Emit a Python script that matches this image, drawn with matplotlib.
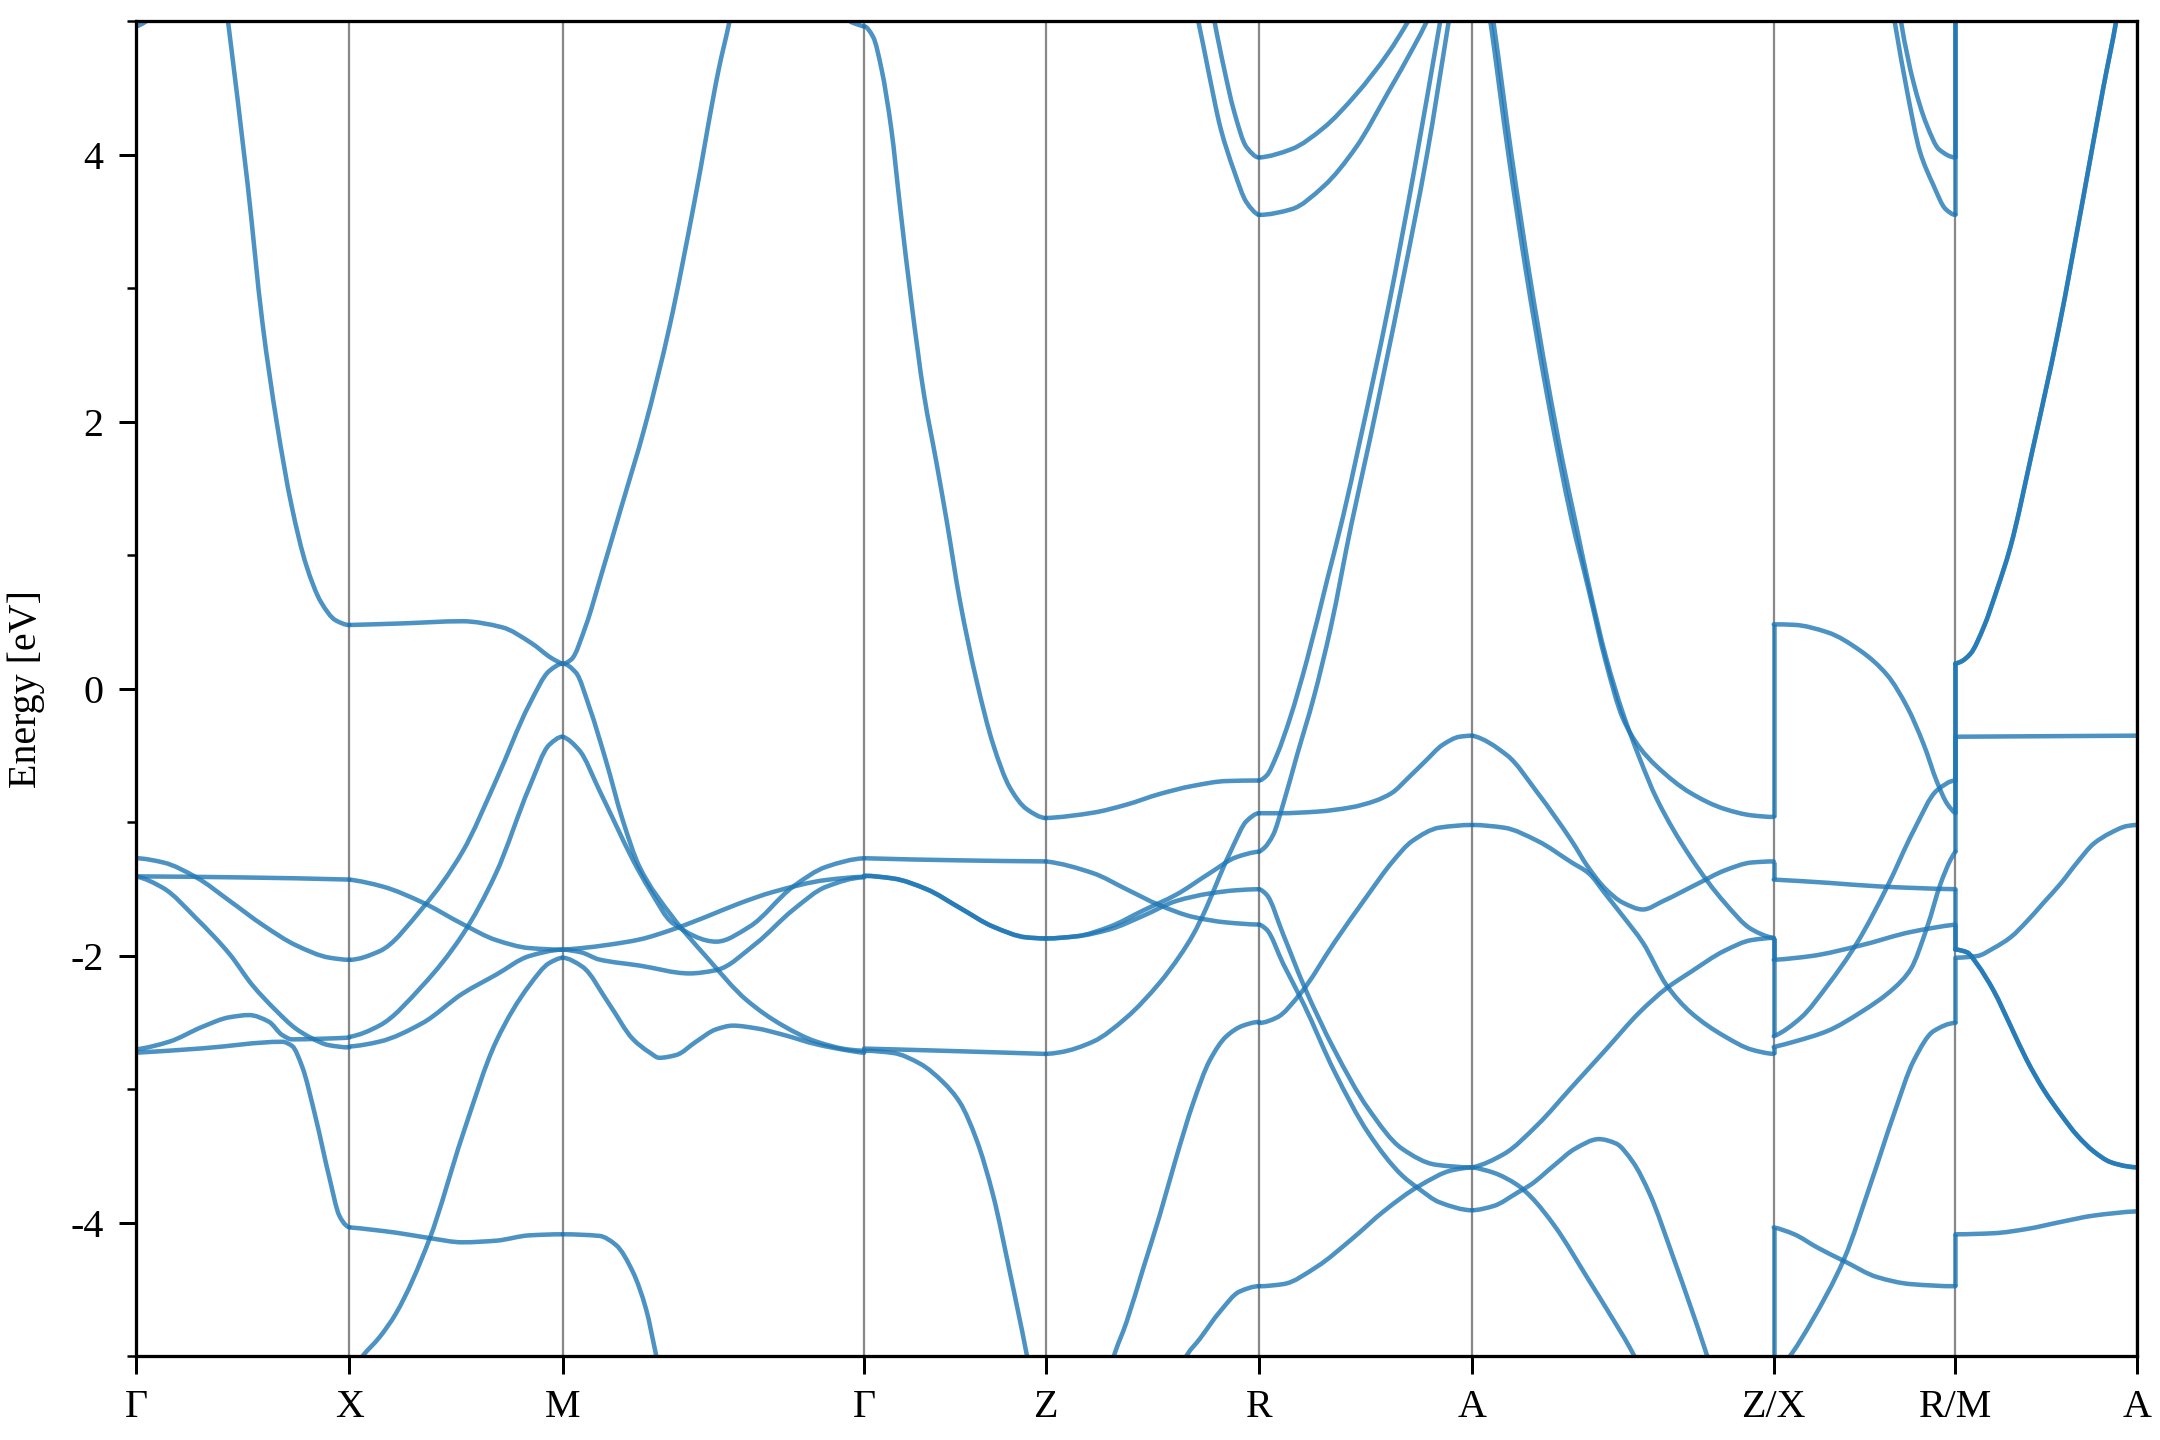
import numpy as np
import matplotlib
matplotlib.use("Agg")
import matplotlib.pyplot as plt
from matplotlib.path import Path
from matplotlib.patches import PathPatch
from matplotlib.ticker import MultipleLocator

plt.rcParams['font.family'] = ['Liberation Serif', 'DejaVu Serif']
plt.rcParams['axes.unicode_minus'] = False

# high-symmetry path (cumulative k distance) and labels
K_LABELS = ['Γ', 'X', 'M', 'Γ', 'Z', 'R', 'A', 'Z/X', 'R/M', 'A']
K_TICKS = [0.0, 0.5, 1.0, 1.707, 2.133, 2.633, 3.133, 3.840, 4.266, 4.692]

# bands, per segment: (fraction along segment, energy in eV)
GX_BANDS = [
    [(0.40, 5.41), (0.431, 5.0), (0.523, 3.779), (0.592, 2.747), (0.660, 1.99), (0.729, 1.371),
     (0.798, 0.924), (0.867, 0.648), (0.936, 0.511), (1.0, 0.476)],
    [(0.0, 4.96), (0.04, 4.99), (0.08, 5.05)],
    [(0.0, -1.271), (0.128, -1.303), (0.283, -1.415), (0.439, -1.591), (0.595, -1.772),
     (0.751, -1.924), (0.907, -2.016), (1.0, -2.032)],
    [(0.0, -1.407), (0.5, -1.415), (1.0, -1.431)],
    [(0.0, -1.407), (0.128, -1.495), (0.283, -1.723), (0.439, -1.99), (0.545, -2.221),
     (0.654, -2.408), (0.748, -2.546), (0.826, -2.621), (0.903, -2.671), (1.0, -2.688)],
    [(0.0, -2.703), (0.156, -2.645), (0.312, -2.533), (0.436, -2.463), (0.53, -2.446),
     (0.623, -2.496), (0.685, -2.595), (0.732, -2.628), (0.872, -2.623), (1.0, -2.615)],
    [(0.0, -2.728), (0.312, -2.695), (0.685, -2.646), (0.732, -2.678), (0.779, -2.833),
     (0.841, -3.207), (0.907, -3.667), (0.953, -3.948), (0.984, -4.02), (1.0, -4.036)],
]

XM_BANDS = [
    [(0.0, 0.476), (0.233, 0.487), (0.53, 0.504), (0.716, 0.459), (0.855, 0.339), (0.947, 0.229), (1.0, 0.184)],
    [(0.0, -2.032), (0.141, -1.968), (0.344, -1.643), (0.531, -1.222), (0.688, -0.689),
     (0.844, -0.12), (0.938, 0.132), (1.0, 0.188)],
    [(0.0, -2.609), (0.141, -2.525), (0.344, -2.224), (0.531, -1.844), (0.688, -1.383),
     (0.844, -0.741), (0.938, -0.421), (1.0, -0.361)],
    [(0.0, -2.681), (0.141, -2.645), (0.344, -2.505), (0.531, -2.285), (0.688, -2.144),
     (0.844, -2.004), (1.0, -1.956)],
    [(0.0, -1.431), (0.156, -1.483), (0.344, -1.603), (0.531, -1.764), (0.688, -1.884),
     (0.844, -1.944), (1.0, -1.956)],
    [(0.0, -4.036), (0.219, -4.076), (0.375, -4.116), (0.531, -4.148), (0.688, -4.136),
     (0.844, -4.096), (1.0, -4.088)],
    [(0.0, -5.15), (0.0625, -5.0), (0.141, -4.86), (0.219, -4.68), (0.375, -4.128), (0.531, -3.347),
     (0.688, -2.645), (0.844, -2.224), (0.938, -2.056), (1.0, -2.016)],
]

MG_BANDS = [
    [(0.0, 0.184), (0.029, 0.218), (0.078, 0.476), (0.127, 0.84), (0.192, 1.337), (0.274, 1.97),
     (0.355, 2.713), (0.437, 3.641), (0.518, 4.639), (0.554, 5.0), (0.58, 5.3)],
    [(0.93, 5.1), (0.952, 5.0), (0.976, 4.976), (1.0, 4.959)],
    [(0.0, 0.188), (0.044, 0.12), (0.089, -0.14), (0.144, -0.541), (0.199, -0.982), (0.255, -1.335),
     (0.364, -1.709), (0.477, -2.01), (0.61, -2.333), (0.731, -2.525), (0.842, -2.645),
     (0.952, -2.705), (1.0, -2.713)],
    [(0.0, -0.361), (0.055, -0.461), (0.122, -0.762), (0.177, -1.022), (0.233, -1.283),
     (0.288, -1.503), (0.366, -1.759), (0.51, -1.896), (0.62, -1.784), (0.764, -1.485),
     (0.875, -1.335), (1.0, -1.272)],
    [(0.0, -1.956), (0.06, -1.945), (0.15, -1.92), (0.255, -1.88), (0.366, -1.804), (0.477, -1.709),
     (0.587, -1.609), (0.698, -1.524), (0.875, -1.434), (1.0, -1.41)],
    [(0.0, -1.956), (0.06, -1.975), (0.122, -2.03), (0.255, -2.075), (0.421, -2.134), (0.51, -2.109),
     (0.642, -1.909), (0.764, -1.659), (0.875, -1.484), (1.0, -1.414)],
    [(0.0, -2.016), (0.066, -2.084), (0.155, -2.365), (0.233, -2.625), (0.288, -2.725),
     (0.321, -2.766), (0.377, -2.745), (0.443, -2.645), (0.509, -2.553), (0.565, -2.525),
     (0.642, -2.545), (0.731, -2.593), (0.842, -2.665), (0.952, -2.713), (1.0, -2.729)],
    [(0.0, -4.088), (0.122, -4.10), (0.177, -4.168), (0.233, -4.369), (0.277, -4.649),
     (0.31, -4.99), (0.33, -5.2)],
]

gz_pair = [(0.0, -1.403), (0.161, -1.423), (0.344, -1.503), (0.527, -1.643), (0.711, -1.784),
           (0.894, -1.864), (1.0, -1.872)]
GZ_BANDS = [
    [(0.0, 4.96), (0.05, 4.88), (0.096, 4.64), (0.15, 4.19), (0.198, 3.61), (0.26, 2.9), (0.33, 2.2),
     (0.40, 1.68), (0.454, 1.262), (0.527, 0.661), (0.619, 0.06), (0.711, -0.421), (0.802, -0.741),
     (0.894, -0.902), (1.0, -0.97)],
    [(0.0, -1.271), (0.527, -1.287), (1.0, -1.295)],
    gz_pair,
    gz_pair,
    [(0.0, -2.697), (0.527, -2.717), (1.0, -2.737)],
    [(0.0, -2.713), (0.161, -2.73), (0.308, -2.81), (0.436, -2.95), (0.527, -3.10), (0.619, -3.38),
     (0.711, -3.80), (0.802, -4.37), (0.894, -4.98), (0.93, -5.25)],
]

ZR_BANDS = [
    [(0.70, 5.1), (0.715, 5.0), (0.761, 4.639), (0.821, 4.19), (0.882, 3.882), (0.942, 3.641), (1.0, 3.548)],
    [(0.78, 5.1), (0.791, 5.0), (0.837, 4.639), (0.882, 4.33), (0.942, 4.054), (1.0, 3.978)],
    [(0.0, -0.970), (0.222, -0.930), (0.378, -0.870), (0.534, -0.790), (0.691, -0.729),
     (0.847, -0.693), (1.0, -0.689)],
    [(0.0, -1.295), (0.222, -1.383), (0.378, -1.503), (0.534, -1.623), (0.691, -1.711),
     (0.847, -1.752), (1.0, -1.768)],
    [(0.0, -1.872), (0.144, -1.856), (0.3, -1.784), (0.456, -1.663), (0.613, -1.543),
     (0.769, -1.383), (0.894, -1.263), (1.0, -1.222)],
    [(0.0, -1.872), (0.144, -1.856), (0.3, -1.804), (0.456, -1.703), (0.613, -1.591),
     (0.769, -1.535), (0.894, -1.511), (1.0, -1.503)],
    [(0.0, -2.737), (0.066, -2.725), (0.222, -2.645), (0.378, -2.465), (0.534, -2.204),
     (0.628, -2.004), (0.691, -1.844), (0.753, -1.643), (0.816, -1.403), (0.878, -1.182),
     (0.941, -0.994), (1.0, -0.934)],
    [(0.29, -5.2), (0.316, -5.02), (0.378, -4.749), (0.456, -4.349), (0.534, -3.948), (0.613, -3.507),
     (0.691, -3.106), (0.769, -2.786), (0.847, -2.605), (0.925, -2.525), (1.0, -2.497)],
    [(0.62, -5.2), (0.653, -5.02), (0.723, -4.87), (0.816, -4.669), (0.909, -4.517), (1.0, -4.477)],
]

RA_BANDS = [
    [(0.0, 3.978), (0.152, 4.04), (0.303, 4.2), (0.455, 4.45), (0.606, 4.76), (0.70, 5.0), (0.75, 5.15)],
    [(0.0, 3.548), (0.152, 3.59), (0.303, 3.762), (0.455, 4.054), (0.606, 4.467), (0.727, 4.811),
     (0.788, 5.0), (0.83, 5.15)],
    [(0.0, -0.689), (0.035, -0.653), (0.083, -0.501), (0.146, -0.22), (0.226, 0.22), (0.321, 0.822),
     (0.393, 1.28), (0.47, 1.83), (0.606, 2.85), (0.73, 3.9), (0.85, 5.0), (0.9, 5.45)],
    [(0.0, -1.222), (0.027, -1.19), (0.067, -1.094), (0.114, -0.862), (0.178, -0.501), (0.258, -0.06),
     (0.337, 0.461), (0.432, 1.22), (0.518, 1.85), (0.667, 3.0), (0.788, 4.0), (0.89, 5.0), (0.93, 5.4)],
    [(0.0, -0.934), (0.099, -0.934), (0.273, -0.922), (0.432, -0.89), (0.544, -0.842), (0.623, -0.782),
     (0.7, -0.669), (0.782, -0.541), (0.862, -0.421), (0.941, -0.361), (1.0, -0.353)],
    [(0.0, -1.503), (0.035, -1.543), (0.114, -1.844), (0.21, -2.224), (0.353, -2.705), (0.512, -3.146),
     (0.671, -3.447), (0.83, -3.567), (1.0, -3.587)],
    [(0.0, -1.768), (0.035, -1.804), (0.114, -2.064), (0.21, -2.365), (0.353, -2.866), (0.512, -3.327),
     (0.671, -3.647), (0.75, -3.747), (0.846, -3.848), (1.0, -3.908)],
    [(0.0, -4.477), (0.114, -4.461), (0.273, -4.329), (0.432, -4.128), (0.591, -3.908), (0.75, -3.727),
     (0.909, -3.607), (1.0, -3.587)],
    [(0.0, -2.505), (0.083, -2.465), (0.194, -2.285), (0.353, -1.904), (0.512, -1.543), (0.623, -1.303),
     (0.719, -1.142), (0.846, -1.042), (1.0, -1.022)],
]

AZ_BANDS = [
    [(0.04, 5.3), (0.06, 5.0), (0.12, 4.0), (0.18, 3.1), (0.24, 2.3), (0.29, 1.7), (0.33, 1.262),
     (0.386, 0.741), (0.443, 0.2), (0.499, -0.22), (0.555, -0.441), (0.611, -0.581), (0.724, -0.782),
     (0.837, -0.902), (0.927, -0.95), (1.0, -0.962)],
    [(0.05, 5.3), (0.07, 5.0), (0.13, 4.0), (0.19, 3.1), (0.25, 2.3), (0.30, 1.7), (0.341, 1.262),
     (0.386, 0.782), (0.443, 0.24), (0.499, -0.18), (0.555, -0.521), (0.611, -0.822), (0.724, -1.263),
     (0.837, -1.603), (0.927, -1.804), (1.0, -1.868)],
    [(0.0, -0.353), (0.116, -0.501), (0.217, -0.782), (0.33, -1.142), (0.386, -1.343), (0.443, -1.503),
     (0.499, -1.603), (0.566, -1.655), (0.634, -1.591), (0.747, -1.463), (0.837, -1.363),
     (0.927, -1.303), (1.0, -1.295)],
    [(0.0, -1.022), (0.105, -1.042), (0.217, -1.142), (0.33, -1.303), (0.386, -1.383), (0.443, -1.543),
     (0.499, -1.703), (0.566, -1.904), (0.645, -2.224), (0.724, -2.425), (0.837, -2.605),
     (0.927, -2.705), (1.0, -2.737)],
    [(0.0, -3.587), (0.105, -3.487), (0.217, -3.267), (0.33, -2.986), (0.443, -2.705), (0.555, -2.425),
     (0.645, -2.244), (0.724, -2.124), (0.837, -1.964), (0.927, -1.884), (1.0, -1.868)],
    [(0.0, -3.587), (0.071, -3.627), (0.15, -3.719), (0.195, -3.808), (0.274, -4.028), (0.386, -4.429),
     (0.454, -4.677), (0.521, -4.93), (0.56, -5.1)],
    [(0.0, -3.908), (0.071, -3.876), (0.15, -3.776), (0.195, -3.715), (0.274, -3.567), (0.341, -3.447),
     (0.42, -3.375), (0.476, -3.407), (0.533, -3.547), (0.589, -3.788), (0.668, -4.269),
     (0.724, -4.629), (0.775, -4.97), (0.8, -5.15)],
]

XR_BANDS = [
    [(0.64, 5.2), (0.665, 5.0), (0.735, 4.467), (0.805, 4.02), (0.876, 3.779), (0.947, 3.59), (1.0, 3.548)],
    [(0.68, 5.2), (0.70, 5.0), (0.77, 4.536), (0.841, 4.226), (0.911, 4.037), (1.0, 3.978)],
    [(0.0, 0.481), (0.113, 0.477), (0.296, 0.421), (0.479, 0.281), (0.625, 0.1), (0.735, -0.14),
     (0.826, -0.421), (0.899, -0.701), (0.954, -0.862), (1.0, -0.934)],
    [(0.0, -1.431), (0.296, -1.455), (0.589, -1.483), (1.0, -1.503)],
    [(0.0, -2.032), (0.205, -2.004), (0.479, -1.924), (0.753, -1.824), (1.0, -1.768)],
    [(0.0, -2.605), (0.15, -2.465), (0.296, -2.224), (0.459, -1.904), (0.625, -1.483), (0.771, -1.062),
     (0.899, -0.762), (1.0, -0.689)],
    [(0.0, -2.685), (0.113, -2.645), (0.296, -2.565), (0.479, -2.425), (0.662, -2.244), (0.753, -2.104),
     (0.845, -1.784), (0.918, -1.463), (0.973, -1.283), (1.0, -1.222)],
    [(0.0, -4.036), (0.113, -4.088), (0.241, -4.188), (0.388, -4.289), (0.57, -4.409), (0.753, -4.461),
     (1.0, -4.477)],
    [(0.0, -5.15), (0.1, -4.98), (0.205, -4.75), (0.388, -4.27), (0.534, -3.707), (0.662, -3.186),
     (0.771, -2.786), (0.881, -2.565), (1.0, -2.505)],
]

ma_cond = [(0.0, 0.188), (0.028, 0.2), (0.083, 0.261), (0.156, 0.461), (0.229, 0.742), (0.303, 1.062),
           (0.424, 1.784), (0.566, 2.678), (0.708, 3.71), (0.814, 4.501), (0.885, 5.0), (0.92, 5.3)]
ma_pair = [(0.0, -1.956), (0.064, -1.976), (0.119, -2.064), (0.211, -2.265), (0.303, -2.525),
           (0.394, -2.786), (0.486, -3.006), (0.578, -3.186), (0.67, -3.347), (0.761, -3.467),
           (0.853, -3.547), (0.945, -3.579), (1.0, -3.587)]
MA_BANDS = [
    ma_cond,
    ma_cond,
    [(0.0, -0.361), (0.5, -0.357), (1.0, -0.353)],
    ma_pair,
    ma_pair,
    [(0.0, -2.016), (0.119, -2.004), (0.211, -1.944), (0.303, -1.864), (0.394, -1.743), (0.486, -1.603),
     (0.578, -1.463), (0.67, -1.303), (0.761, -1.162), (0.853, -1.082), (0.945, -1.03), (1.0, -1.022)],
    [(0.0, -4.088), (0.211, -4.08), (0.394, -4.048), (0.578, -3.996), (0.761, -3.948), (1.0, -3.916)],
]

SEGMENTS = [GX_BANDS, XM_BANDS, MG_BANDS, GZ_BANDS, ZR_BANDS, RA_BANDS, AZ_BANDS, XR_BANDS, MA_BANDS]

# band discontinuities at the path breaks (energy before, energy after)
ZX_JUMPS = [(-0.962, 0.481), (-1.303, -1.431), (-1.868, -2.032), (-1.868, -2.605), (-2.737, -2.685), (-5.2, -4.036)]
RM_JUMPS = [(3.978, 5.2), (3.548, 5.2), (-0.689, 0.188), (-0.934, 0.188), (-1.222, -0.361),
            (-1.503, -1.956), (-1.768, -1.956), (-2.505, -2.016), (-4.477, -4.088)]

BAND_COLOR = '#1f77b4'
BAND_ALPHA = 0.8
BAND_LW = 1.8


def pchip_slopes(x, y):
    h = np.diff(x)
    d = np.diff(y) / h
    n = len(x)
    m = np.zeros(n)
    if n == 2:
        m[:] = d[0]
        return m
    for i in range(1, n - 1):
        if d[i - 1] * d[i] <= 0:
            m[i] = 0.0
        else:
            w1 = 2 * h[i] + h[i - 1]
            w2 = h[i] + 2 * h[i - 1]
            m[i] = (w1 + w2) / (w1 / d[i - 1] + w2 / d[i])

    def end(h0, h1, d0, d1):
        s = ((2 * h0 + h1) * d0 - h0 * d1) / (h0 + h1)
        if np.sign(s) != np.sign(d0):
            s = 0.0
        elif np.sign(d0) != np.sign(d1) and abs(s) > abs(3 * d0):
            s = 3 * d0
        return s

    m[0] = end(h[0], h[1], d[0], d[1])
    m[-1] = end(h[-1], h[-2], d[-1], d[-2])
    return m


def band_path(k, e):
    # smooth cubic curve through the read points
    m = pchip_slopes(k, e)
    verts = [(k[0], e[0])]
    codes = [Path.MOVETO]
    for i in range(len(k) - 1):
        h = k[i + 1] - k[i]
        verts += [(k[i] + h / 3, e[i] + m[i] * h / 3),
                  (k[i + 1] - h / 3, e[i + 1] - m[i + 1] * h / 3),
                  (k[i + 1], e[i + 1])]
        codes += [Path.CURVE4] * 3
    return Path(verts, codes)


fig = plt.figure(figsize=(12, 8), dpi=180)
ax = fig.add_axes([0.063, 0.0583, 0.9264, 0.9271])

for kx in K_TICKS:
    ax.axvline(kx, color='#888888', lw=0.9, zorder=1)

for i, bands in enumerate(SEGMENTS):
    k0, k1 = K_TICKS[i], K_TICKS[i + 1]
    for band in bands:
        t = np.array([p[0] for p in band])
        e = np.array([p[1] for p in band])
        k = k0 + t * (k1 - k0)
        patch = PathPatch(band_path(k, e), fill=False, edgecolor=BAND_COLOR,
                          alpha=BAND_ALPHA, lw=BAND_LW, zorder=2, capstyle='round')
        ax.add_patch(patch)

for kx, jumps in [(K_TICKS[7], ZX_JUMPS), (K_TICKS[8], RM_JUMPS)]:
    for e_before, e_after in jumps:
        ax.plot([kx, kx], [e_before, e_after], color=BAND_COLOR, alpha=BAND_ALPHA,
                lw=BAND_LW, zorder=2, solid_capstyle='butt')

ax.set_xlim(K_TICKS[0], K_TICKS[-1])
ax.set_ylim(-5, 5)
ax.set_xticks(K_TICKS)
ax.set_xticklabels(K_LABELS)
ax.yaxis.set_major_locator(MultipleLocator(2))
ax.yaxis.set_minor_locator(MultipleLocator(1))
ax.set_ylabel('Energy [eV]', fontsize=16, labelpad=10)

for sp in ax.spines.values():
    sp.set_linewidth(1.3)
ax.tick_params(axis='both', which='major', labelsize=16, length=7, width=1.2, pad=6)
ax.tick_params(axis='y', which='minor', length=3.6, width=1.0)

fig.savefig('out.png', dpi=180)
